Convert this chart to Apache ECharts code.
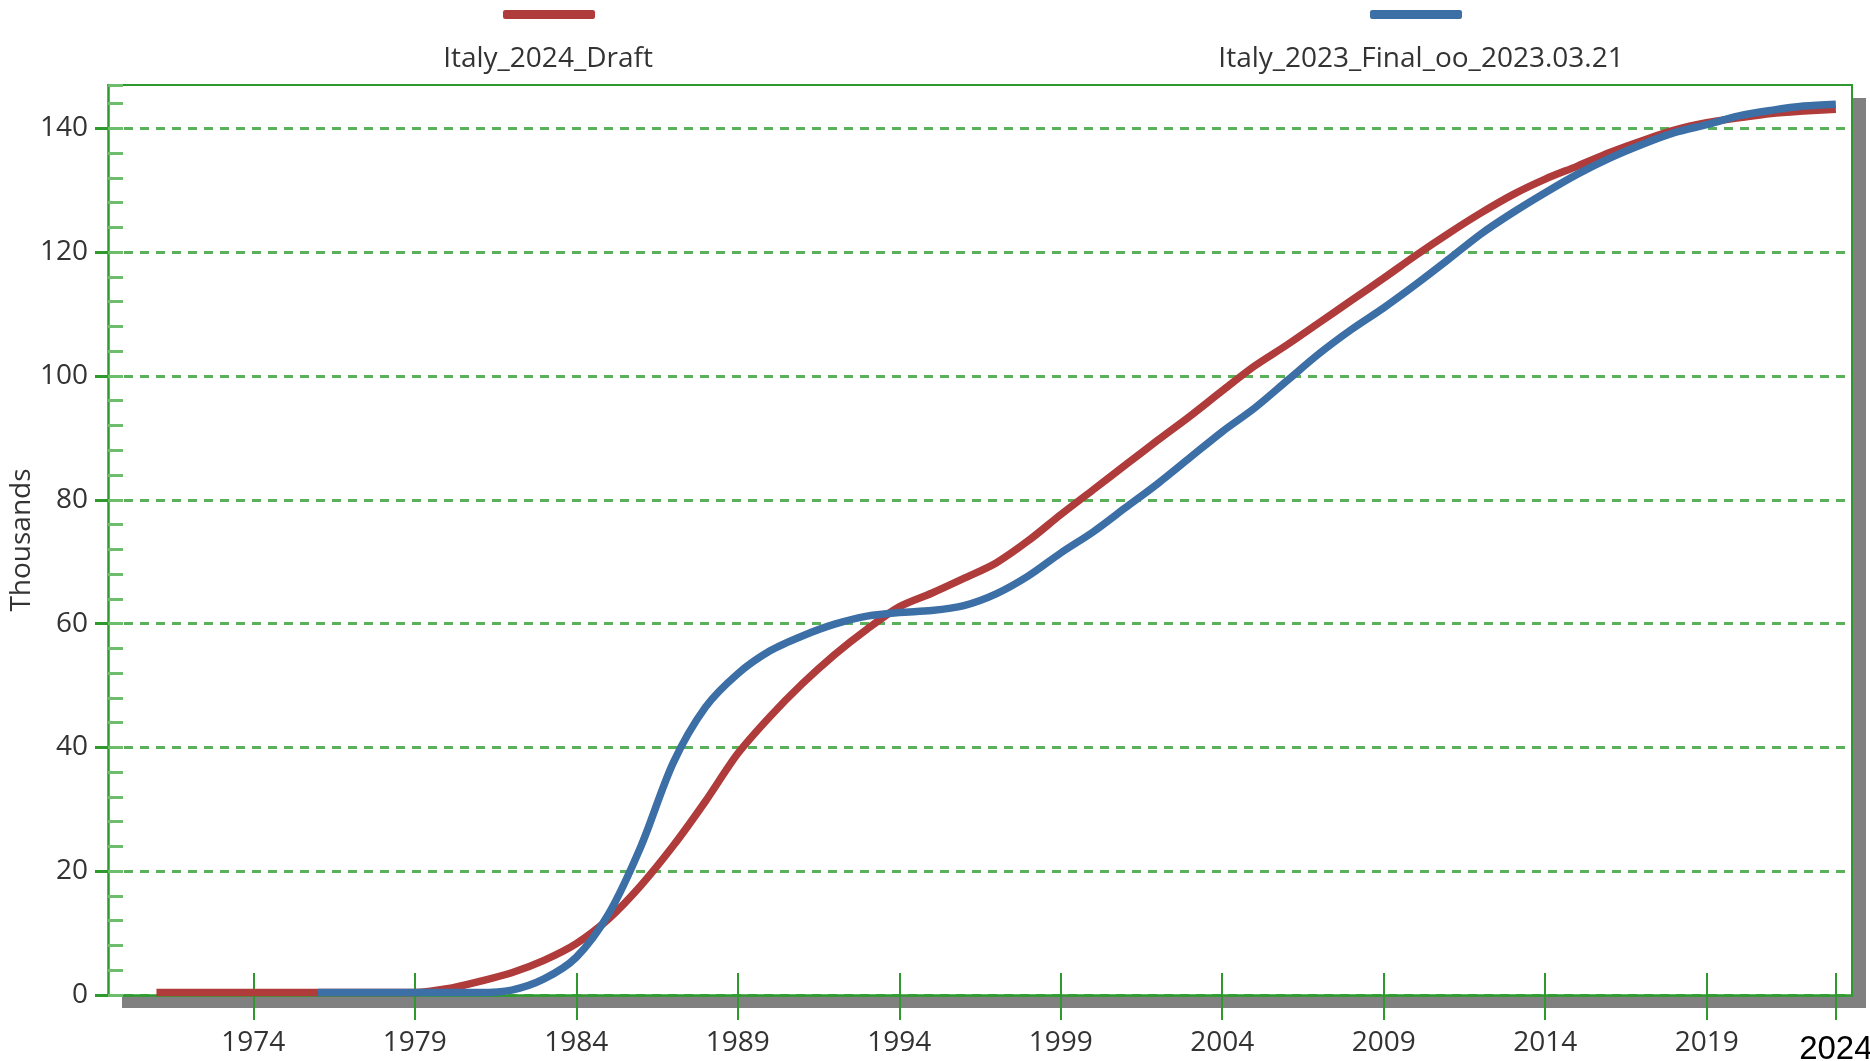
<!DOCTYPE html>
<html>
<head>
<meta charset="utf-8">
<script src="https://cdn.jsdelivr.net/npm/echarts@6/dist/echarts.min.js"></script>
<style>
  html, body { margin: 0; padding: 0; background: #fff; }
  #chart { width: 1870px; height: 1061px; }
</style>
</head>
<body>
<div id="chart"></div>
<script>
// years on the x axis (category centres)
var years = ['1970', '1971', '1972', '1973', '1974', '1975', '1976', '1977', '1978', '1979',
  '1980', '1981', '1982', '1983', '1984', '1985', '1986', '1987', '1988', '1989',
  '1990', '1991', '1992', '1993', '1994', '1995', '1996', '1997', '1998', '1999',
  '2000', '2001', '2002', '2003', '2004', '2005', '2006', '2007', '2008', '2009',
  '2010', '2011', '2012', '2013', '2014', '2015', '2016', '2017', '2018', '2019',
  '2020', '2021', '2022', '2023'];

// which years get a tick + label, and the odd hand-written "2024" at the end
var tickYears = ['1974', '1979', '1984', '1989', '1994', '1999', '2004', '2009', '2014', '2019', '2023'];
var tickText = { '2023': '2024' };

var yTickValues = [0, 20, 40, 60, 80, 100, 120, 140];

// thousands
var draft2024 = [null, 0.4, 0.4, 0.4, 0.4, 0.4, 0.4, 0.4, 0.4, 0.4,
  1.0, 2.2, 3.6, 5.6, 8.3, 12.3, 17.7, 24.1, 31.3, 39.0,
  45.0, 50.3, 55.0, 59.1, 62.7, 64.9, 67.3, 69.8, 73.4, 77.6,
  81.6, 85.6, 89.6, 93.5, 97.6, 101.6, 105.0, 108.6, 112.2, 115.8,
  119.5, 123.0, 126.3, 129.3, 131.8, 133.9, 136.1, 138.0, 139.7, 140.9,
  141.7, 142.4, 142.8, 143.1];

var final2023 = [null, null, null, null, null, null, 0.4, 0.4, 0.4, 0.4,
  0.4, 0.4, 0.8, 2.6, 6.1, 13.1, 24.0, 37.5, 46.5, 51.9,
  55.6, 58.0, 59.9, 61.2, 61.8, 62.1, 62.9, 64.8, 67.7, 71.4,
  74.8, 78.7, 82.6, 86.8, 91.0, 94.8, 99.2, 103.6, 107.5, 111.0,
  114.8, 118.8, 122.9, 126.4, 129.6, 132.6, 135.2, 137.4, 139.3, 140.6,
  142.0, 142.9, 143.6, 143.9];

var seriesNames = ['Italy_2024_Draft', 'Italy_2023_Final_oo_2023.03.21'];

var green = '#2e9a2e';
var textColor = '#333';
var font = "'Open Sans', 'Noto Sans', sans-serif";

function isTick(idx, val) { return tickYears.indexOf(val) >= 0; }

var chart = echarts.init(document.getElementById('chart'), null, { renderer: 'canvas' });

var option = {
  animation: false,
  textStyle: { fontFamily: font },
  legend: [
    { // swatches only
      data: seriesNames,
      top: 5, left: 498,
      icon: 'roundRect', itemWidth: 92, itemHeight: 9, itemGap: 775,
      selectedMode: false,
      formatter: function () { return ''; }
    },
    { // names only, centred under the swatches
      data: seriesNames,
      top: 40, left: 238,
      icon: 'none', itemWidth: 0, itemHeight: 0, itemGap: 268,
      selectedMode: false,
      formatter: function (name) { return '{t|' + name + '}'; },
      textStyle: {
        rich: { t: { width: 600, align: 'center', fontSize: 28, lineHeight: 34, color: textColor, fontFamily: font } }
      }
    }
  ],
  grid: {
    left: 108, top: 85, right: 18, bottom: 66,
    outerBoundsMode: 'none',
    show: true,
    backgroundColor: '#fff',
    borderWidth: 0,
    shadowColor: '#808080', shadowBlur: 0, shadowOffsetX: 14, shadowOffsetY: 13
  },
  xAxis: [
    {
      type: 'category', data: years, boundaryGap: true, position: 'bottom',
      axisLine: { lineStyle: { color: green, width: 2.5 } },
      axisTick: { show: true, alignWithLabel: true, interval: isTick, length: 25, lineStyle: { color: green, width: 2 } },
      axisLabel: {
        interval: isTick, margin: 34, fontSize: 28, color: textColor,
        formatter: function (v) { return tickText[v] ? '{end|' + tickText[v] + '}' : v; },
        rich: { end: { color: '#000', fontSize: 33, fontFamily: "'Liberation Sans Narrow', 'Liberation Sans', sans-serif", padding: [4, 0, 0, 0] } }
      },
      splitLine: { show: false }
    },
    { // upper half of the crossing ticks
      type: 'category', data: years, boundaryGap: true, position: 'bottom',
      axisLine: { show: false },
      axisTick: { show: true, inside: true, alignWithLabel: true, interval: isTick, length: 22, lineStyle: { color: green, width: 2 } },
      axisLabel: { show: false },
      splitLine: { show: false }
    },
    { // top frame line
      type: 'category', data: years, position: 'top',
      axisLine: { show: true, onZero: false, lineStyle: { color: green, width: 2 } },
      axisTick: { show: false }, axisLabel: { show: false }, splitLine: { show: false }
    }
  ],
  yAxis: [
    {
      type: 'value', min: 0, max: 147, interval: 20, position: 'left',
      name: 'Thousands', nameLocation: 'middle', nameGap: 72, nameMoveOverlap: false,
      nameTextStyle: { fontSize: 28, color: textColor },
      axisLine: { show: true, lineStyle: { color: green, width: 2.5 } },
      axisTick: { show: true, length: 13, customValues: yTickValues, lineStyle: { color: green, width: 3 } },
      axisLabel: { margin: 20, fontSize: 28, color: textColor, customValues: yTickValues },
      splitLine: { show: true, lineStyle: { color: '#3da33d', width: 3, type: [9, 7], opacity: 0.85 } }
    },
    { // minor ticks, inside
      type: 'value', min: 0, max: 147, interval: 4, position: 'left',
      axisLine: { show: false },
      axisTick: { show: true, inside: true, length: 15, lineStyle: { color: '#6dbd6d', width: 3 } },
      axisLabel: { show: false },
      splitLine: { show: false }
    },
    { // right frame line
      type: 'value', min: 0, max: 147, position: 'right',
      axisLine: { show: true, onZero: false, lineStyle: { color: green, width: 2 } },
      axisTick: { show: false }, axisLabel: { show: false }, splitLine: { show: false }
    }
  ],
  series: [
    {
      name: seriesNames[0], type: 'line', data: draft2024,
      xAxisIndex: 0, yAxisIndex: 0,
      smooth: 0.3, symbol: 'none', showSymbol: false,
      color: '#b03b3b',
      lineStyle: { width: 7.5, color: '#b03b3b' },
      z: 3
    },
    {
      name: seriesNames[1], type: 'line', data: final2023,
      xAxisIndex: 0, yAxisIndex: 0,
      smooth: 0.3, symbol: 'none', showSymbol: false,
      color: '#3c6fa6',
      lineStyle: { width: 7.5, color: '#3c6fa6' },
      z: 4
    }
  ]
};

chart.setOption(option);
</script>
</body>
</html>
